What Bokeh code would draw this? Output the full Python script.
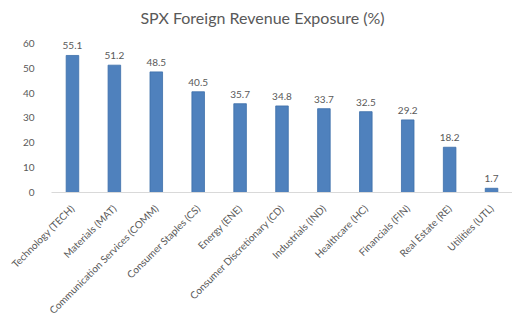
from bokeh.plotting import figure
from bokeh.models import ColumnDataSource, Range1d, FactorRange, Label
from bokeh.core.properties import value
from bokeh.embed import file_html
from bokeh.resources import INLINE

title_text = "SPX Foreign Revenue Exposure (%)"
sectors = ["Technology (TECH)", "Materials (MAT)", "Communication Services (COMM)",
           "Consumer Staples (CS)", "Energy (ENE)", "Consumer Discretionary (CD)",
           "Industrials (IND)", "Healthcare (HC)", "Financials (FIN)",
           "Real Estate (RE)", "Utilities (UTL)"]
exposure = [55.1, 51.2, 48.5, 40.5, 35.7, 34.8, 33.7, 32.5, 29.2, 18.2, 1.7]
y_ticks = [0, 10, 20, 30, 40, 50, 60]

FONT = "Lato"
GRAY = "#595959"

src = ColumnDataSource(dict(x=sectors, y=exposure, lab=[f"{v:.1f}" for v in exposure]))

p = figure(width=512, height=323, x_range=FactorRange(*sectors, range_padding=0),
           y_range=Range1d(0, 77.2), output_backend="svg", toolbar_location=None,
           min_border_left=51, min_border_right=0, min_border_top=0, min_border_bottom=130)
p.outline_line_color = None
p.background_fill_color = "white"
p.border_fill_color = "white"
p.grid.visible = False

p.vbar(x="x", top="y", width=0.3, source=src, fill_color="#4F81BD", line_color="#3C6FA9", line_width=0.8)
p.text(x="x", y="y", text="lab", source=src, text_align="center", text_baseline="bottom",
       y_offset=-6, text_font=value(FONT), text_font_size="10px", text_color=GRAY)

p.add_layout(Label(x=5.035, y=70.4, text=title_text, text_align="center", text_baseline="middle",
                   text_font=FONT, text_font_size="16px", text_color=GRAY))

p.yaxis.ticker = y_ticks
p.yaxis.axis_line_color = None
p.yaxis.major_tick_line_color = None
p.yaxis.minor_tick_line_color = None
p.yaxis.major_label_standoff = 11
p.yaxis.major_label_text_font = FONT
p.yaxis.major_label_text_font_size = "10px"
p.yaxis.major_label_text_color = GRAY

p.xaxis.axis_line_color = "#D9D9D9"
p.xaxis.axis_line_width = 1
p.xaxis.major_tick_line_color = None
p.xaxis.minor_tick_line_color = None
p.xaxis.major_label_orientation = 0.785398
p.xaxis.major_label_standoff = 8
p.xaxis.major_label_text_font = FONT
p.xaxis.major_label_text_font_size = "10px"
p.xaxis.major_label_text_color = GRAY

open("out.html", "w").write(file_html(p, INLINE))
